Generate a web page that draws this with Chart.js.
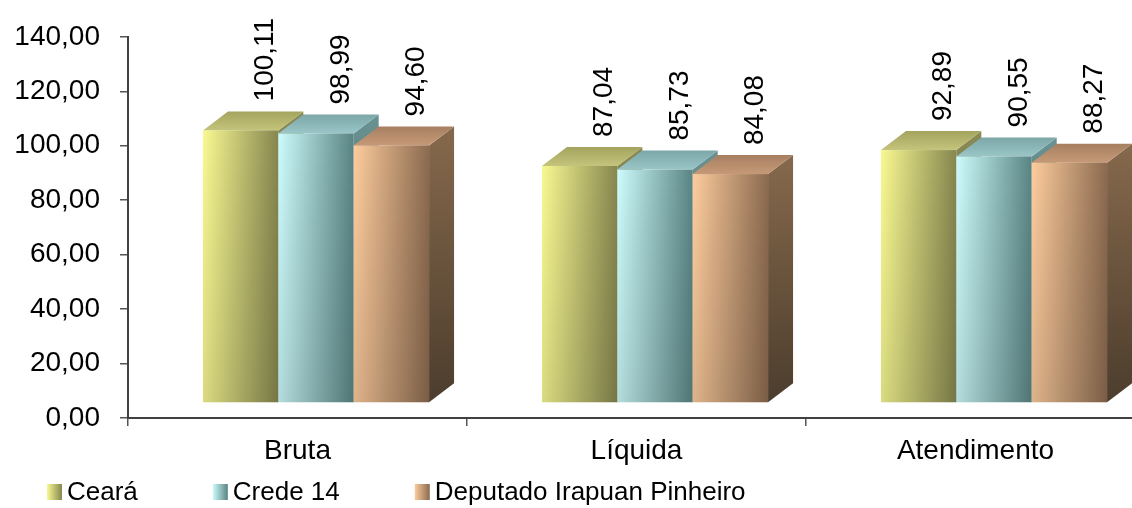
<!DOCTYPE html>
<html lang="pt-BR">
<head>
<meta charset="UTF-8">
<title>Taxas - Ceará / Crede 14 / Deputado Irapuan Pinheiro</title>
<script src="https://cdn.jsdelivr.net/npm/chart.js"></script>
<style>
    html, body {
        margin: 0;
        padding: 0;
        background: #fff;
        overflow: hidden;
    }
    #wrap {
        width: 1160px;
        height: 508px;
    }
</style>
</head>
<body>
<div id="wrap"><canvas id="chart" width="1160" height="508"></canvas></div>
<script>
// data
const categories = ['Bruta', 'Líquida', 'Atendimento'];
const seriesNames = ['Ceará', 'Crede 14', 'Deputado Irapuan Pinheiro'];
const cearaValues = [100.11, 87.04, 92.89];
const credeValues = [98.99, 85.73, 90.55];
const deputadoValues = [94.60, 84.08, 88.27];
const yMin = 0, yMax = 140, yStep = 20;

const FONT = '"Liberation Sans", Arial, sans-serif';
const DX = 25, DY = 19;        // depth of the 3d boxes
const SHIFT_X = 18.5, SHIFT_Y = -15;

// colours per series (front light/dark, top, side)
const palettes = [
    { light: '#f9f992', dark: '#86864f', top: '#c4c47c', topBack: '#a4a45f', side: '#8a8a55', sideDark: '#5a5a36' },
    { light: '#cdfbfb', dark: '#5a8484', top: '#9ac6c8', topBack: '#7ca6a8', side: '#6a9292', sideDark: '#435d5d' },
    { light: '#fdcc9d', dark: '#8b6a4f', top: '#c69a78', topBack: '#a67f60', side: '#86694c', sideDark: '#4c3d2d' }
];

function fmt(v) {
    return v.toFixed(2).replace('.', ',');
}

function drawBox(ctx, x0, x1, yTop, yBot, p) {
    // side face
    let g = ctx.createLinearGradient(0, yTop - DY, 0, yBot);
    g.addColorStop(0, p.side);
    g.addColorStop(1, p.sideDark);
    ctx.fillStyle = g;
    ctx.beginPath();
    ctx.moveTo(x1, yTop);
    ctx.lineTo(x1 + DX, yTop - DY);
    ctx.lineTo(x1 + DX, yBot - DY);
    ctx.lineTo(x1, yBot);
    ctx.closePath();
    ctx.fill();

    // top face
    g = ctx.createLinearGradient(0, yTop, 0, yTop - DY);
    g.addColorStop(0, p.top);
    g.addColorStop(1, p.topBack);
    ctx.fillStyle = g;
    ctx.beginPath();
    ctx.moveTo(x0, yTop);
    ctx.lineTo(x1, yTop);
    ctx.lineTo(x1 + DX, yTop - DY);
    ctx.lineTo(x0 + DX, yTop - DY);
    ctx.closePath();
    ctx.fill();

    // front face
    g = ctx.createLinearGradient(x0, 0, x1, 0);
    g.addColorStop(0, p.light);
    g.addColorStop(1, p.dark);
    ctx.fillStyle = g;
    ctx.fillRect(x0, yTop, x1 - x0, yBot - yTop);
    g = ctx.createLinearGradient(0, yTop, 0, yBot);
    g.addColorStop(0, 'rgba(0,0,0,0)');
    g.addColorStop(1, 'rgba(0,0,0,0.12)');
    ctx.fillStyle = g;
    ctx.fillRect(x0, yTop, x1 - x0, yBot - yTop);
}

const bars3d = {
    id: 'bars3d',
    beforeDatasetsDraw(chart) {
        const ctx = chart.ctx;
        const n = chart.data.datasets.length;
        const labels = [];
        ctx.save();
        for (let i = 0; i < categories.length; i++) {
            for (let d = 0; d < n; d++) {
                const bar = chart.getDatasetMeta(d).data[i];
                const { x, y, base, width } = bar.getProps(['x', 'y', 'base', 'width'], true);
                const x0 = x - width / 2 + SHIFT_X, x1 = x + width / 2 + SHIFT_X;
                const yTop = y + SHIFT_Y, yBot = base + SHIFT_Y;
                drawBox(ctx, x0, x1, yTop, yBot, palettes[d]);
                labels.push({ x: (x0 + x1) / 2 + 25, y: yTop - DY - 10, v: chart.data.datasets[d].data[i] });
            }
        }
        ctx.fillStyle = '#000';
        ctx.font = '28px ' + FONT;
        ctx.textAlign = 'left';
        ctx.textBaseline = 'middle';
        labels.forEach(l => {
            ctx.save();
            ctx.translate(l.x, l.y);
            ctx.rotate(-Math.PI / 2);
            ctx.fillText(fmt(l.v), 0, 0);
            ctx.restore();
        });
        ctx.restore();
        return false;
    }
};

const legendBottom = {
    id: 'legendBottom',
    afterDraw(chart) {
        const ctx = chart.ctx;
        ctx.save();
        ctx.font = '26px ' + FONT;
        ctx.textAlign = 'left';
        ctx.textBaseline = 'middle';
        let x = 47;
        const yc = 492;
        chart.data.datasets.forEach((ds, d) => {
            const p = palettes[d];
            const g = ctx.createLinearGradient(x, 0, x + 15, 0);
            g.addColorStop(0, p.light);
            g.addColorStop(1, p.dark);
            ctx.fillStyle = g;
            ctx.fillRect(x, yc - 8, 15, 16);
            ctx.fillStyle = '#000';
            ctx.fillText(ds.label, x + 20, yc + 1);
            x += 20 + ctx.measureText(ds.label).width + 75;
        });
        ctx.restore();
    }
};

const seriesValues = [cearaValues, credeValues, deputadoValues];

new Chart(document.getElementById('chart'), {
    type: 'bar',
    data: {
        labels: categories,
        datasets: seriesNames.map((name, k) => ({
            label: name,
            data: seriesValues[k],
            backgroundColor: palettes[k].light,
            barPercentage: 1,
            categoryPercentage: 0.667
        }))
    },
    options: {
        responsive: false,
        animation: false,
        layout: { padding: { top: 33, right: 15, bottom: 40, left: 0 } },
        plugins: {
            legend: { display: false },
            tooltip: { enabled: false }
        },
        scales: {
            x: {
                grid: {
                    display: true,
                    offset: true,
                    drawOnChartArea: false,
                    tickLength: 8,
                    color: '#555',
                    lineWidth: 1.5
                },
                border: { color: '#404040', width: 2 },
                ticks: {
                    color: '#000',
                    font: { family: FONT, size: 28 },
                    padding: 8,
                    maxRotation: 0
                },
                afterFit(scale) { scale.height = 50; }
            },
            y: {
                min: yMin,
                max: yMax,
                grid: {
                    display: true,
                    drawOnChartArea: false,
                    tickLength: 8,
                    color: '#555',
                    lineWidth: 1.5
                },
                border: { color: '#404040', width: 2 },
                ticks: {
                    stepSize: yStep,
                    color: '#000',
                    font: { family: FONT, size: 28 },
                    padding: 20,
                    callback: v => fmt(v)
                },
                afterFit(scale) { scale.width = 128; }
            }
        }
    },
    plugins: [bars3d, legendBottom]
});
</script>
</body>
</html>
